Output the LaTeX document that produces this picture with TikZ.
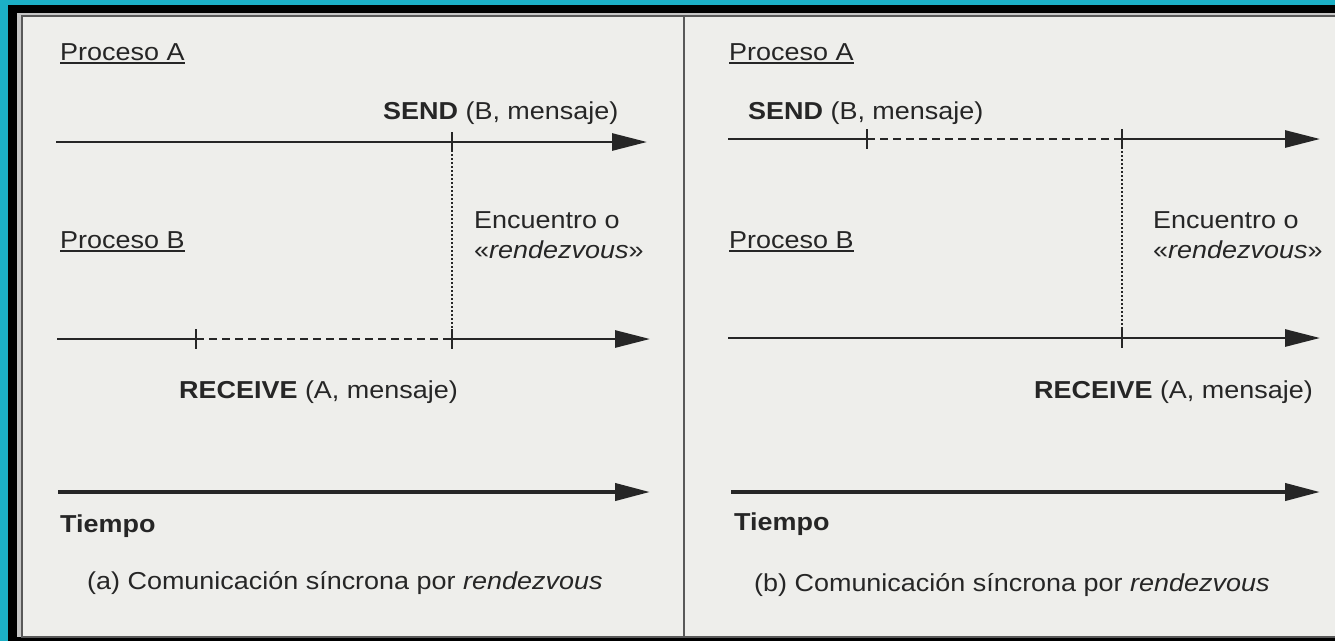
\documentclass[tikz,border=0pt]{standalone}
\usepackage{fontspec}
\setmainfont{Liberation Sans}[FakeStretch=1.1]
\usetikzlibrary{arrows.meta}
\definecolor{marco}{RGB}{28,176,198}
\definecolor{papel}{RGB}{238,238,235}
\definecolor{tinta}{RGB}{38,38,38}

\begin{document}
\begin{tikzpicture}[x=1pt,y=-1pt,
	etiq/.style={anchor=base west,inner sep=0pt,text=tinta,font=\fontsize{24.5}{29.4}\selectfont},
	linea/.style={draw=tinta,line width=2.8pt},
	flecha/.style={linea,-{Triangle[length=35pt,width=17pt]}},
	espera/.style={draw=tinta,line width=1.6pt,dash pattern=on 8pt off 5pt},
	cita/.style={draw=tinta,line width=1.2pt,dash pattern=on 2pt off 2pt},
	marca/.style={draw=tinta,line width=2.4pt},
	subr/.style={draw=tinta,line width=1.4pt}]
	\useasboundingbox (0,0) rectangle (1335,641);
	% marco y papel
	\fill[marco] (0,0) rectangle (1335,641);
	\fill[black] (8,5) rectangle (1335,641);
	\fill[gray!45] (17,13) rectangle (1335,637);
	\filldraw[fill=papel,draw=gray!70!black,line width=1.5pt] (22,16) rectangle (1345,637);
	\draw[gray!70!black,line width=1.8pt] (684,16) -- (684,637);
	% (a)
	\node[etiq] (pA1) at (60,60) {Proceso A};
	\node[etiq] (send1) at (383,119) {\textbf{SEND} (B, mensaje)};
	\node[etiq] (enc1) at (474,228) {Encuentro o};
	\node[etiq] (rdv1) at (474,258) {«\textit{rendezvous}»};
	\node[etiq] (pB1) at (60,248) {Proceso B};
	\node[etiq] (recv1) at (179,398) {\textbf{RECEIVE} (A, mensaje)};
	\node[etiq] (tmp1) at (60,532) {\textbf{Tiempo}};
	\node[etiq] (cap1) at (87,589) {(a) Comunicación síncrona por \textit{rendezvous}};
	% (b)
	\node[etiq] (pA2) at (729,60) {Proceso A};
	\node[etiq] (send2) at (748,119) {\textbf{SEND} (B, mensaje)};
	\node[etiq] (enc2) at (1153,228) {Encuentro o};
	\node[etiq] (rdv2) at (1153,258) {«\textit{rendezvous}»};
	\node[etiq] (pB2) at (729,248) {Proceso B};
	\node[etiq] (recv2) at (1034,398) {\textbf{RECEIVE} (A, mensaje)};
	\node[etiq] (tmp2) at (734,530) {\textbf{Tiempo}};
	\node[etiq] (cap2) at (754,591) {(b) Comunicación síncrona por \textit{rendezvous}};
	\path
	(56,142) coordinate (a1) (452,142) coordinate (c1) (647,142) coordinate (a1f)
	(57,339) coordinate (b1) (196,339) coordinate (b1e) (452,339) coordinate (c1b) (650,339) coordinate (b1f)
	(58,492) coordinate (t1) (650,492) coordinate (t1f)
	(728,139) coordinate (a2) (867,139) coordinate (a2e) (1122,139) coordinate (c2) (1320,139) coordinate (a2f)
	(728,338) coordinate (b2) (1122,338) coordinate (c2b) (1320,338) coordinate (b2f)
	(731,492) coordinate (t2) (1320,492) coordinate (t2f);
	% lineas de los procesos
	\draw[flecha] (a1) -- (a1f);
	\draw[linea] (b1) -- (b1e);
	\draw[espera] (b1e) -- (c1b);
	\draw[flecha] (c1b) -- (b1f);
	\draw[cita] (c1) -- (c1b);
	\draw[flecha,line width=4pt] (t1) -- (t1f);
	\draw[linea] (a2) -- (a2e);
	\draw[espera] (a2e) -- (c2);
	\draw[flecha] (c2) -- (a2f);
	\draw[flecha] (b2) -- (b2f);
	\draw[cita] (c2) -- (c2b);
	\draw[flecha,line width=4pt] (t2) -- (t2f);
	\foreach \m in {c1,b1e,c1b,a2e,c2,c2b} \draw[marca] ([yshift=10pt]\m) -- ([yshift=-10pt]\m);
	\foreach \n in {pA1,pB1,pA2,pB2} \draw[subr] ([yshift=-3pt]\n.base west) -- ([yshift=-3pt]\n.base east);
\end{tikzpicture}
\end{document}
